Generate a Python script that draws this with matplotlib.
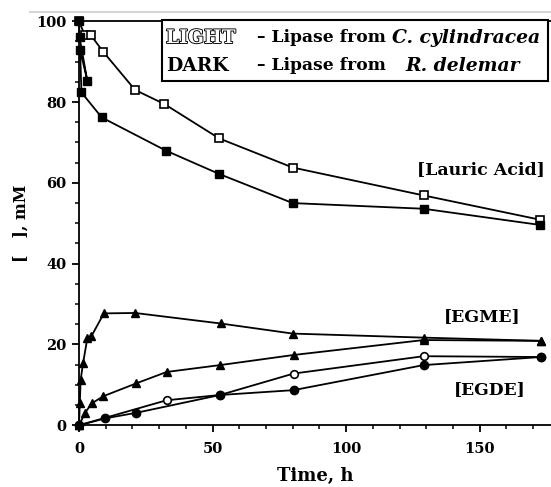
import numpy as np
import matplotlib.pyplot as plt
import matplotlib.patheffects as pe
from matplotlib.patches import Rectangle
from matplotlib.lines import Line2D
from matplotlib.ticker import MultipleLocator

# Datos (tiempo en h, concentracion en mM)
# Acido laurico - C. cylindracea (claro)
t_lau_light = [0, 2.2, 4.5, 9, 21, 32, 52.5, 80, 129, 172.5]
y_lau_light = [100, 96.5, 96.5, 92.5, 83, 79.5, 71, 63.8, 56.9, 50.9]
# Acido laurico - R. delemar (oscuro)
t_lau_dark = [0, 0.2, 3.1, 0.4, 0.9, 8.5, 32.5, 52.5, 80, 129, 172.5]
y_lau_dark = [100, 96, 85.3, 93, 82.4, 76.2, 68, 62.2, 55, 53.6, 49.6]
# EGME
t_egme_a = [0, 0.3, 0.6, 1.5, 3.1, 4.6, 9.3, 21, 53, 80, 129, 173]
y_egme_a = [0, 5.5, 11.2, 15.3, 21.5, 22, 27.7, 27.8, 25.2, 22.7, 21.7, 20.9]
t_egme_b = [0, 2.2, 4.7, 9.1, 21.5, 32.8, 52.8, 80.3, 129, 173]
y_egme_b = [0, 3.0, 5.4, 7.2, 10.4, 13.2, 14.9, 17.4, 21.1, 20.9]
# EGDE
t_egde_light = [0, 32.8, 52.8, 80.3, 129, 173]
y_egde_light = [0, 6.2, 7.5, 12.8, 17.1, 16.9]
t_egde_dark = [0, 9.7, 21.5, 52.8, 80.3, 129, 173]
y_egde_dark = [0, 1.7, 3.1, 7.5, 8.7, 14.9, 16.9]

plt.rcParams['font.family'] = 'DejaVu Serif'
plt.rcParams['font.weight'] = 'bold'

fig = plt.figure(figsize=(5.51, 4.87), dpi=100)
ax = fig.add_axes([0.1434, 0.1267, 0.8566, 0.8296])

lw = 1.3
kw = dict(color='black', lw=lw, clip_on=False)
ax.plot(t_lau_light, y_lau_light, marker='s', ms=5.5, mfc='white', mec='black', mew=1.2, **kw)
ax.plot(t_lau_dark, y_lau_dark, marker='s', ms=5.5, mfc='black', mec='black', **kw)
ax.plot(t_egme_a, y_egme_a, marker='^', ms=6, mfc='black', mec='black', **kw)
ax.plot(t_egme_b, y_egme_b, marker='^', ms=6, mfc='black', mec='black', **kw)
ax.plot(t_egde_light, y_egde_light, marker='o', ms=5.5, mfc='white', mec='black', mew=1.2, **kw)
ax.plot(t_egde_dark, y_egde_dark, marker='o', ms=6, mfc='black', mec='black', **kw)

ax.set_xlim(0, 176.7)
ax.set_ylim(0, 100)
ax.spines['right'].set_visible(False)
for s in ['left', 'bottom', 'top']:
    ax.spines[s].set_linewidth(1.3)
ax.xaxis.set_major_locator(MultipleLocator(50))
ax.xaxis.set_minor_locator(MultipleLocator(10))
ax.yaxis.set_major_locator(MultipleLocator(20))
ax.yaxis.set_minor_locator(MultipleLocator(5))
ax.tick_params(which='major', direction='out', length=5, width=1.3, labelsize=10.5, pad=4)
ax.tick_params(axis='x', which='major', pad=7)
ax.tick_params(which='minor', direction='out', length=3, width=1.1)
for lab in ax.get_xticklabels() + ax.get_yticklabels():
    lab.set_fontweight('bold')

ax.set_xlabel('Time, h', fontsize=13, fontweight='bold', labelpad=8)
ax.set_ylabel('[   ], mM', fontsize=11.5, fontweight='bold', labelpad=5)

# Recuadro de la leyenda
ax.add_patch(Rectangle((0.176, 0.852), 0.818, 0.151, transform=ax.transAxes,
                       fc='white', lw=1.5, ec='black', clip_on=False, zorder=3))
tf = dict(fontweight='bold', va='center', transform=fig.transFigure, zorder=4)
fig.text(166/551, 1 - 38/487, 'LIGHT', color='white', fontsize=13.5,
         path_effects=[pe.withStroke(linewidth=1.3, foreground='black')], **tf)
fig.text(257/551, 1 - 38/487, '– Lipase from', fontsize=12.3, **tf)
fig.text(392/551, 1 - 38/487, 'C. cylindracea', style='italic', fontsize=13.5, **tf)
fig.text(166/551, 1 - 66/487, 'DARK', fontsize=13.5, **tf)
fig.text(257/551, 1 - 66/487, '– Lipase from', fontsize=12.3, **tf)
fig.text(405/551, 1 - 66/487, 'R. delemar', style='italic', fontsize=13.5, **tf)

# Etiquetas de las curvas
fig.text(481/551, 1 - 170/487, '[Lauric Acid]', fontsize=12.5, fontweight='bold', ha='center', va='center')
fig.text(482/551, 1 - 317/487, '[EGME]', fontsize=12.5, fontweight='bold', ha='center', va='center')
fig.text(490/551, 1 - 390/487, '[EGDE]', fontsize=12.3, fontweight='bold', ha='center', va='center')

# linea gris del escaneo
fig.add_artist(Line2D([30/551, 1], [1 - 12/487, 1 - 12/487], color='#d5d5d5', lw=1.5))

fig.savefig('out.png', dpi=100)
